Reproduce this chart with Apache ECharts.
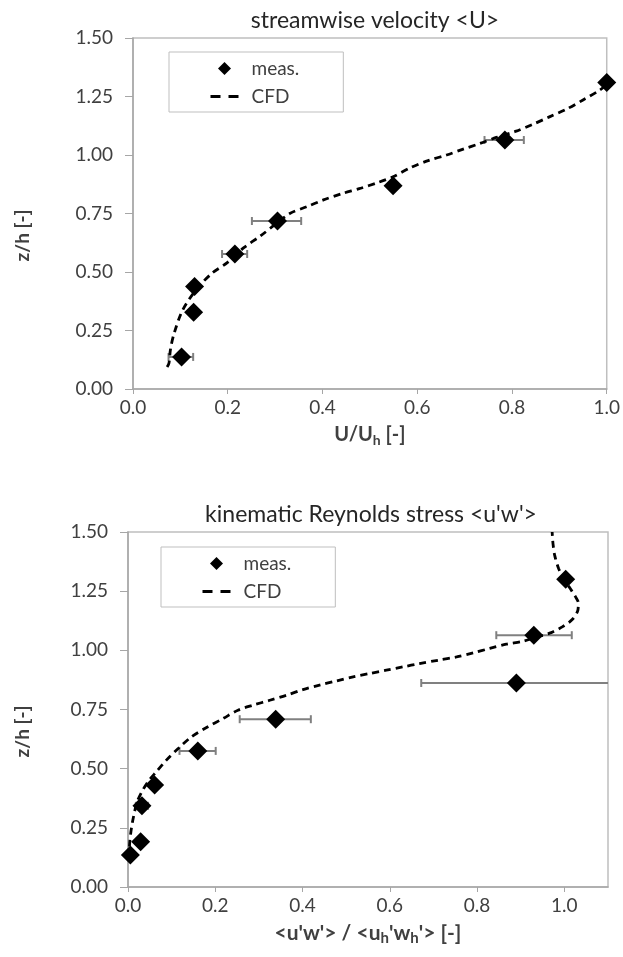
<!DOCTYPE html>
<html>
<head>
<meta charset="utf-8">
<script src="https://cdn.jsdelivr.net/npm/echarts@6/dist/echarts.min.js"></script>
<style>
  html, body { margin: 0; padding: 0; background: #fff; }
  #main { width: 623px; height: 957px; }
</style>
</head>
<body>
<div id="main"></div>
<script>
// streamwise velocity, measured points [U/Uh, z/h]
var uMeas = [[0.1025, 0.137], [0.128, 0.328], [0.130, 0.438], [0.215, 0.577],
  [0.305, 0.718], [0.549, 0.869], [0.785, 1.064], [1.0, 1.31]]
// error bars [x, z, xlow, xhigh]
var uErr = [[0.1025, 0.137, 0.075, 0.127], [0.215, 0.577, 0.188, 0.241],
  [0.305, 0.718, 0.251, 0.355], [0.785, 1.064, 0.742, 0.825]]
var uCfd = [[0.072, 0.094], [0.076, 0.111], [0.079, 0.168], [0.086, 0.232], [0.105, 0.338],
  [0.136, 0.431], [0.167, 0.495], [0.199, 0.540], [0.234, 0.604], [0.269, 0.654],
  [0.303, 0.708], [0.332, 0.751], [0.367, 0.779], [0.402, 0.808], [0.441, 0.835],
  [0.479, 0.857], [0.518, 0.883], [0.549, 0.907], [0.585, 0.945], [0.623, 0.976],
  [0.662, 1.0], [0.697, 1.025], [0.732, 1.049], [0.767, 1.075], [0.809, 1.102],
  [0.844, 1.131], [0.879, 1.163], [0.915, 1.196], [0.949, 1.234], [0.985, 1.277], [1.0, 1.30]]

// kinematic Reynolds stress, measured points [uw/uhwh, z/h]
var rsMeas = [[0.0055, 0.135], [0.029, 0.191], [0.032, 0.343], [0.061, 0.431],
  [0.160, 0.575], [0.3385, 0.709], [0.890, 0.862], [0.930, 1.064], [1.003, 1.300]]
var rsErr = [[0.032, 0.343, 0.018, 0.046], [0.160, 0.575, 0.118, 0.201],
  [0.3385, 0.709, 0.256, 0.419], [0.890, 0.862, 0.672, 1.12], [0.930, 1.064, 0.844, 1.017]]
var rsCfd = [[0.002, 0.12], [0.004, 0.19], [0.008, 0.25], [0.013, 0.30], [0.021, 0.36],
  [0.034, 0.41], [0.05, 0.455], [0.065, 0.487], [0.088, 0.536], [0.115, 0.585],
  [0.145, 0.634], [0.180, 0.674], [0.218, 0.712], [0.252, 0.747], [0.286, 0.768],
  [0.325, 0.789], [0.363, 0.810], [0.401, 0.834], [0.439, 0.853], [0.478, 0.871],
  [0.516, 0.888], [0.554, 0.902], [0.592, 0.916], [0.630, 0.930], [0.668, 0.944],
  [0.710, 0.958], [0.753, 0.972], [0.791, 0.989], [0.829, 1.008], [0.867, 1.026],
  [0.905, 1.038], [0.935, 1.055], [0.970, 1.075], [0.995, 1.099], [1.018, 1.130],
  [1.031, 1.170], [1.032, 1.200], [1.025, 1.228], [1.012, 1.265], [1.0, 1.30],
  [0.987, 1.345], [0.978, 1.40], [0.974, 1.45], [0.972, 1.50]]

var FONT = 'Lato'
var TXT = '#404040'
var AXC = '#a6a6a6'

var chart = echarts.init(document.getElementById('main'))

function errorBar(params, api) {
  var lo = api.coord([api.value(2), api.value(1)])
  var hi = api.coord([api.value(3), api.value(1)])
  var cap = 4
  var st = { stroke: '#808080', lineWidth: 2 }
  return {
    type: 'group',
    children: [
      { type: 'line', shape: { x1: lo[0], y1: lo[1], x2: hi[0], y2: hi[1] }, style: st },
      { type: 'line', shape: { x1: lo[0], y1: lo[1] - cap, x2: lo[0], y2: lo[1] + cap }, style: st },
      { type: 'line', shape: { x1: hi[0], y1: hi[1] - cap, x2: hi[0], y2: hi[1] + cap }, style: st }
    ]
  }
}

function xAx(idx, max, name, fs) {
  return {
    type: 'value', gridIndex: idx, min: 0, max: max, interval: 0.2,
    name: name, nameLocation: 'middle', nameGap: 34,
    nameTextStyle: {
      color: TXT, fontFamily: FONT, fontWeight: 'bold', fontSize: fs,
      rich: {
        a: { fontFamily: FONT, fontWeight: 'bold', fontSize: fs, color: TXT },
        s: { fontFamily: FONT, fontWeight: 'bold', fontSize: fs - 6, color: TXT, padding: [10, 0, 0, 0] }
      }
    },
    axisLine: { lineStyle: { color: AXC, width: 1.5 } },
    axisTick: { show: true, length: 5, lineStyle: { color: AXC } },
    axisLabel: {
      color: TXT, fontFamily: FONT, fontSize: 19, margin: 9, showMaxLabel: max === 1,
      formatter: function (v) { return v.toFixed(1) }
    },
    splitLine: { show: false }
  }
}

function yAx(idx, gap) {
  return {
    type: 'value', gridIndex: idx, min: 0, max: 1.5, interval: 0.25,
    name: 'z/h [-]', nameLocation: 'middle', nameGap: gap, nameRotate: 90,
    nameTextStyle: { color: TXT, fontFamily: FONT, fontWeight: 'bold', fontSize: 19, padding: [0, 44, 0, 0] },
    axisLine: { show: true, lineStyle: { color: AXC, width: 1.5 } },
    axisTick: { show: true, length: 8, lineStyle: { color: AXC } },
    axisLabel: {
      color: TXT, fontFamily: FONT, fontSize: 19, margin: 20,
      formatter: function (v) { return v.toFixed(2) }
    },
    splitLine: { show: false }
  }
}

function legendBox(idx, left, top) {
  return {
    left: left, top: top, orient: 'vertical', selectedMode: false,
    borderColor: '#bfbfbf', borderWidth: 1, padding: [7, 44, 6, 40],
    itemWidth: 28, itemHeight: 13, itemGap: 9,
    textStyle: { color: TXT, fontFamily: FONT, fontSize: 19, padding: [0, 0, 0, 8] },
    data: [
      { name: 'meas.', icon: 'path://M0,7 L7,0 L14,7 L7,14 Z', itemStyle: { color: '#000' } },
      { name: 'CFD', itemStyle: { color: 'rgba(0,0,0,0)', opacity: 0, borderWidth: 0 },
        lineStyle: { color: '#000', width: 3, type: [10, 8] } }
    ]
  }
}

var option = {
  animation: false,
  backgroundColor: '#fff',
  title: [
    { text: 'streamwise velocity <U>', left: 370, top: 4, textAlign: 'center',
      textStyle: { color: '#262626', fontFamily: FONT, fontWeight: 'normal', fontSize: 23 } },
    { text: "kinematic Reynolds stress <u'w'>", left: 366, top: 498, textAlign: 'center',
      textStyle: { color: '#262626', fontFamily: FONT, fontWeight: 'normal', fontSize: 23 } }
  ],
  legend: [legendBox(0, 169, 52), legendBox(1, 161, 547)],
  grid: [
    { left: 133, right: 15, top: 38, height: 351, show: true, borderColor: '#bfbfbf', borderWidth: 1.5 },
    { left: 128, right: 15, top: 532, height: 355, show: true, borderColor: '#bfbfbf', borderWidth: 1.5 }
  ],
  xAxis: [
    xAx(0, 1, '{a|U/U}{s|h}{a| [-]}', 20),
    xAx(1, 1.1, "{a|<u'w'> / <u}{s|h}{a|'w}{s|h}{a|'> [-]}", 21)
  ],
  yAxis: [yAx(0, 101), yAx(1, 96)],
  series: [
    { type: 'custom', name: 'errU', xAxisIndex: 0, yAxisIndex: 0, renderItem: errorBar,
      encode: { x: 0, y: 1 }, data: uErr, z: 1, clip: true },
    { type: 'line', name: 'CFD', xAxisIndex: 0, yAxisIndex: 0, data: uCfd, smooth: 0.3,
      symbol: 'none', lineStyle: { color: '#000', width: 2.8, type: [7, 5] }, itemStyle: { color: '#000' }, z: 2 },
    { type: 'scatter', name: 'meas.', xAxisIndex: 0, yAxisIndex: 0, data: uMeas, symbol: 'diamond',
      symbolSize: 19, itemStyle: { color: '#000', opacity: 1 }, clip: false, z: 3 },

    { type: 'custom', name: 'errRS', xAxisIndex: 1, yAxisIndex: 1, renderItem: errorBar,
      encode: { x: 0, y: 1 }, data: rsErr, z: 1, clip: true },
    { type: 'line', name: 'CFD', xAxisIndex: 1, yAxisIndex: 1, data: rsCfd, smooth: 0.3,
      symbol: 'none', lineStyle: { color: '#000', width: 2.8, type: [7, 5] }, itemStyle: { color: '#000' }, z: 2 },
    { type: 'scatter', name: 'meas.', xAxisIndex: 1, yAxisIndex: 1, data: rsMeas, symbol: 'diamond',
      symbolSize: 19, itemStyle: { color: '#000', opacity: 1 }, clip: false, z: 3 }
  ]
}

chart.setOption(option)
</script>
</body>
</html>
